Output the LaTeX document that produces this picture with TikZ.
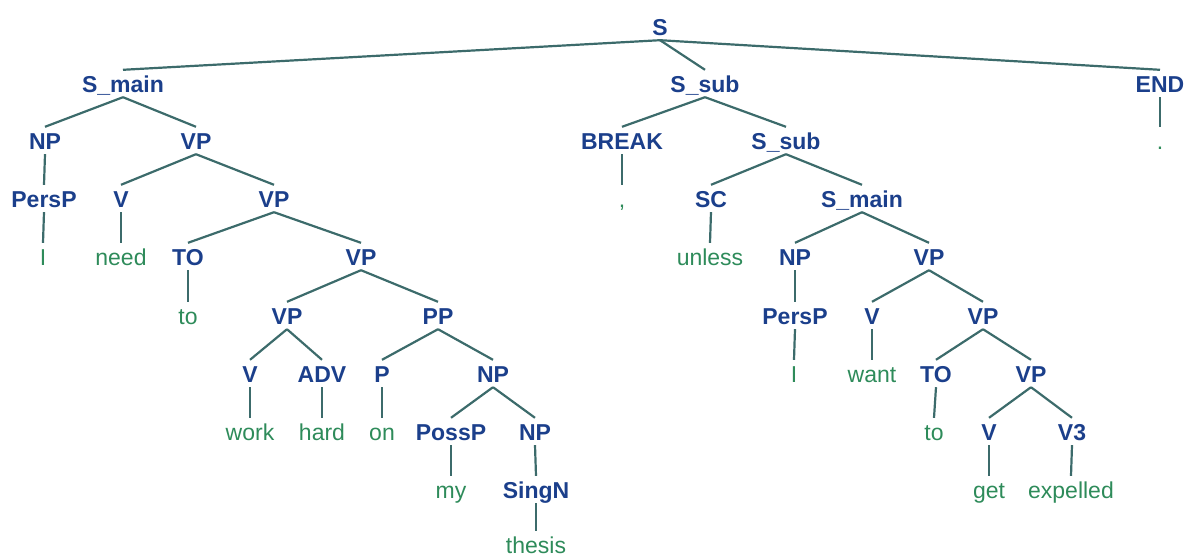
\documentclass[tikz,border=0pt]{standalone}
\usepackage{fontspec}
\setmainfont{Liberation Sans}
\definecolor{labelblue}{HTML}{1B3F8B}
\definecolor{wordgreen}{HTML}{2E8B5A}
\definecolor{edgeteal}{HTML}{3C6B6B}
\tikzset{
  cat/.style={anchor=base, inner xsep=1pt, inner ysep=5pt, text height=17pt, text depth=0pt,
    font=\fontsize{23}{23}\selectfont\bfseries, text=labelblue},
  word/.style={anchor=base, inner xsep=1pt, inner ysep=5pt, text height=17pt, text depth=0pt,
    font=\fontsize{23}{23}\selectfont, text=wordgreen},
  edge/.style={draw=edgeteal, line width=2.2pt}
}
\begin{document}
\begin{tikzpicture}[x=1pt, y=-1pt]
\useasboundingbox (0,0) rectangle (1184,557);
% row 0
\node[cat] (s) at (660,35) {S};
% row 1
\node[cat] (smain) at (123,92) {S\_main};
\node[cat] (ssub) at (705,92) {S\_sub};
\node[cat] (end) at (1160,92) {END};
% row 2
\node[cat] (np1) at (45,149) {NP};
\node[cat] (vp1) at (196,149) {VP};
\node[cat] (brk) at (622,149) {BREAK};
\node[cat] (ssub2) at (786,149) {S\_sub};
\node[word] (dot) at (1160,149) {.};
% row 3
\node[cat] (persp1) at (44,207) {PersP};
\node[cat] (v1) at (121,207) {V};
\node[cat] (vp2) at (274,207) {VP};
\node[word] (comma) at (622,207) {,};
\node[cat] (sc) at (711,207) {SC};
\node[cat] (smain2) at (862,207) {S\_main};
% row 4
\node[word] (i1) at (43,265) {I};
\node[word] (need) at (121,265) {need};
\node[cat] (to1) at (188,265) {TO};
\node[cat] (vp3) at (361,265) {VP};
\node[word] (unless) at (710,265) {unless};
\node[cat] (np2) at (795,265) {NP};
\node[cat] (vp4) at (929,265) {VP};
% row 5
\node[word] (to1w) at (188,324) {to};
\node[cat] (vp5) at (287,324) {VP};
\node[cat] (pp) at (438,324) {PP};
\node[cat] (persp2) at (795,324) {PersP};
\node[cat] (v2) at (872,324) {V};
\node[cat] (vp6) at (983,324) {VP};
% row 6
\node[cat] (v3) at (250,382) {V};
\node[cat] (adv) at (322,382) {ADV};
\node[cat] (p) at (382,382) {P};
\node[cat] (np3) at (493,382) {NP};
\node[word] (i2) at (794,382) {I};
\node[word] (want) at (872,382) {want};
\node[cat] (to2) at (936,382) {TO};
\node[cat] (vp7) at (1031,382) {VP};
% row 7
\node[word] (work) at (250,440) {work};
\node[word] (hard) at (322,440) {hard};
\node[word] (on) at (382,440) {on};
\node[cat] (possp) at (451,440) {PossP};
\node[cat] (np4) at (535,440) {NP};
\node[word] (to2w) at (934,440) {to};
\node[cat] (v4) at (989,440) {V};
\node[cat] (v3b) at (1072,440) {V3};
% row 8
\node[word] (my) at (451,498) {my};
\node[cat] (singn) at (536,498) {SingN};
\node[word] (get) at (989,498) {get};
\node[word] (expelled) at (1071,498) {expelled};
% row 9
\node[word] (thesis) at (536,553) {thesis};
% branches
\foreach \a/\b in {s/smain, s/ssub, s/end,
  smain/np1, smain/vp1, np1/persp1, persp1/i1, vp1/v1, vp1/vp2, v1/need,
  vp2/to1, vp2/vp3, to1/to1w, vp3/vp5, vp3/pp, vp5/v3, vp5/adv, v3/work, adv/hard,
  pp/p, pp/np3, p/on, np3/possp, np3/np4, possp/my, np4/singn, singn/thesis,
  ssub/brk, ssub/ssub2, brk/comma, ssub2/sc, ssub2/smain2, sc/unless,
  smain2/np2, smain2/vp4, np2/persp2, persp2/i2, vp4/v2, vp4/vp6, v2/want,
  vp6/to2, vp6/vp7, to2/to2w, vp7/v4, vp7/v3b, v4/get, v3b/expelled, end/dot}
  \draw[edge] (\a.south) -- (\b.north);
\end{tikzpicture}
\end{document}
